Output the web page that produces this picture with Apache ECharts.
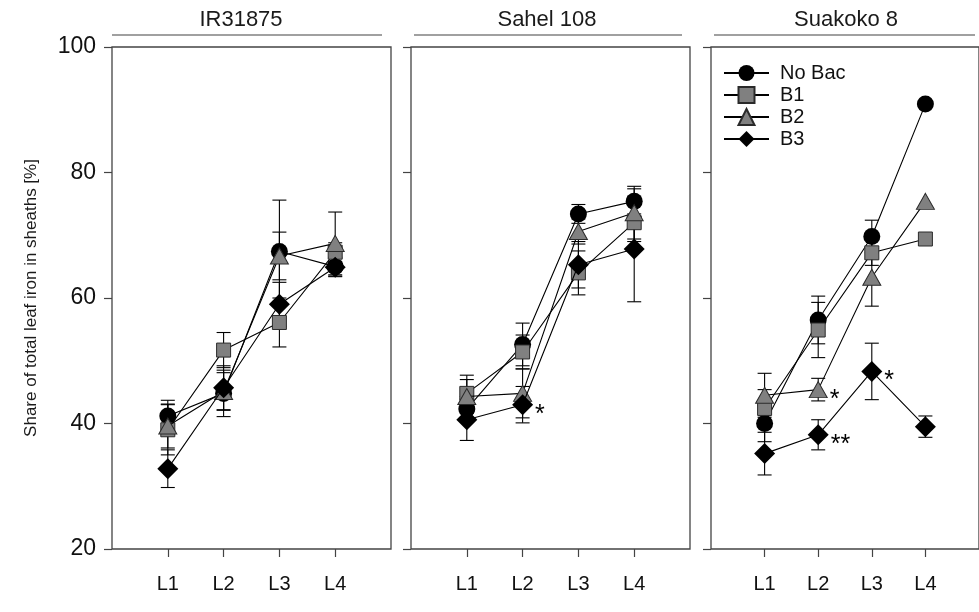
<!DOCTYPE html>
<html>
<head>
<meta charset="utf-8">
<script src="https://cdn.jsdelivr.net/npm/echarts@6/dist/echarts.min.js"></script>
<style>
  html, body { margin: 0; padding: 0; background: #fff; }
  #chart { width: 979px; height: 612px; }
</style>
</head>
<body>
<div id="chart"></div>
<script>
// Leaf levels (x categories), genotypes (panels) and treatments (series)
const levels = ['L1', 'L2', 'L3', 'L4'];
const genotypes = ['IR31875', 'Sahel 108', 'Suakoko 8'];
const treatments = ['No Bac', 'B1', 'B2', 'B3'];
const yTicks = [20, 40, 60, 80, 100];

// IR31875: mean share (%) and standard error per leaf level
const irNoBac = [41.2, 44.8, 67.4, 65.0];
const irB1    = [39.0, 51.7, 56.1, 67.3];
const irB2    = [39.6, 45.1, 66.7, 68.7];
const irB3    = [32.8, 45.7, 59.0, 64.9];
const irNoBacErr = [2.5, 3.7, 8.2, 1.5];
const irB1Err    = [4.0, 2.8, 3.9, 1.5];
const irB2Err    = [3.5, 3.0, 3.8, 5.0];
const irB3Err    = [3.0, 3.5, 3.5, 1.5];

// Sahel 108
const sahelNoBac = [42.3, 52.6, 73.4, 75.4];
const sahelB1    = [44.8, 51.4, 64.0, 72.0];
const sahelB2    = [44.3, 44.8, 70.6, 73.6];
const sahelB3    = [40.6, 43.0, 65.3, 67.8];
const sahelNoBacErr = [2.0, 3.4, 1.5, 2.0];
const sahelB1Err    = [2.9, 2.7, 3.5, 3.0];
const sahelB2Err    = [2.7, 3.9, 2.0, 4.2];
const sahelB3Err    = [3.3, 2.9, 3.7, 8.4];

// Suakoko 8
const suakNoBac = [40.0, 56.5, 69.8, 90.9];
const suakB1    = [42.4, 54.9, 67.2, 69.4];
const suakB2    = [44.5, 45.4, 63.3, 75.4];
const suakB3    = [35.2, 38.2, 48.3, 39.5];
const suakNoBacErr = [2.9, 3.8, 2.6, 0];
const suakB1Err    = [3.0, 4.4, 2.0, 0];
const suakB2Err    = [3.5, 1.8, 4.6, 0];
const suakB3Err    = [3.4, 2.4, 4.5, 1.7];

// Significance marks versus the non-inoculated control
const noSig    = ['', '', '', ''];
const sahelB3Sig = ['', '*', '', ''];
const suakB2Sig  = ['', '*', '', ''];
const suakB3Sig  = ['', '**', '*', ''];

const panelMeans = [
  [irNoBac, irB1, irB2, irB3],
  [sahelNoBac, sahelB1, sahelB2, sahelB3],
  [suakNoBac, suakB1, suakB2, suakB3]
];
const panelErrs = [
  [irNoBacErr, irB1Err, irB2Err, irB3Err],
  [sahelNoBacErr, sahelB1Err, sahelB2Err, sahelB3Err],
  [suakNoBacErr, suakB1Err, suakB2Err, suakB3Err]
];
const panelSig = [
  [noSig, noSig, noSig, noSig],
  [noSig, noSig, noSig, sahelB3Sig],
  [noSig, noSig, suakB2Sig, suakB3Sig]
];

const FONT = "'Liberation Sans', Arial, sans-serif";
const GRAY = '#808080';
const EDGE = '#2a2a2a';

const markerStyles = [
  { symbol: 'circle',   symbolSize: 17,       itemStyle: { color: '#000' } },
  { symbol: 'rect',     symbolSize: 14,       itemStyle: { color: GRAY, borderColor: EDGE, borderWidth: 1 } },
  { symbol: 'triangle', symbolSize: [18, 16], itemStyle: { color: GRAY, borderColor: EDGE, borderWidth: 1 } },
  { symbol: 'diamond',  symbolSize: [21, 21], itemStyle: { color: '#000' } }
];

const panelLeft = [112, 411, 711];
const panelWidth = 279;
const panelTop = 47;
const panelHeight = 502;

const grids = [], xAxes = [], yAxes = [], series = [];

panelLeft.forEach((left, gi) => {
  grids.push({
    left: left, top: panelTop, width: panelWidth, height: panelHeight,
    show: true, borderColor: '#444', borderWidth: 1.3, backgroundColor: 'transparent'
  });
  xAxes.push({
    gridIndex: gi, type: 'value', min: 0, max: levels.length + 1, interval: 1,
    axisLine: { show: false },
    splitLine: { show: false },
    axisTick: { show: true, length: 8, customValues: levels.map((l, i) => i + 1),
                lineStyle: { color: '#444', width: 1.2 } },
    axisLabel: { customValues: levels.map((l, i) => i + 1),
                 formatter: v => levels[v - 1] || '',
                 fontFamily: FONT, fontSize: 20, color: '#111', margin: 25 }
  });
  yAxes.push({
    gridIndex: gi, type: 'value', min: yTicks[0], max: yTicks[yTicks.length - 1], interval: 20,
    axisLine: { show: false },
    splitLine: { show: false },
    axisTick: { show: true, length: 8, lineStyle: { color: '#444', width: 1.2 } },
    axisLabel: { show: gi === 0, fontFamily: FONT, fontSize: 23, color: '#111', margin: 16 }
  });

  treatments.forEach((name, ti) => {
    const means = panelMeans[gi][ti];
    const errs = panelErrs[gi][ti];
    const sig = panelSig[gi][ti];

    // error bars with caps
    series.push({
      type: 'custom', name: name + ' error', xAxisIndex: gi, yAxisIndex: gi, z: 1, silent: true,
      data: means.map((m, i) => [i + 1, m - errs[i], m + errs[i]]).filter((d, i) => errs[i] > 0),
      renderItem: (params, api) => {
        const x = api.value(0);
        const lo = api.coord([x, api.value(1)]);
        const hi = api.coord([x, api.value(2)]);
        const w = 7;
        const st = { stroke: '#000', lineWidth: 1.1 };
        return {
          type: 'group',
          children: [
            { type: 'line', shape: { x1: lo[0], y1: lo[1], x2: hi[0], y2: hi[1] }, style: st },
            { type: 'line', shape: { x1: lo[0] - w, y1: lo[1], x2: lo[0] + w, y2: lo[1] }, style: st },
            { type: 'line', shape: { x1: hi[0] - w, y1: hi[1], x2: hi[0] + w, y2: hi[1] }, style: st }
          ]
        };
      }
    });

    // means joined by lines
    series.push(Object.assign({
      type: 'line', name: name, xAxisIndex: gi, yAxisIndex: gi, z: 2 + ti,
      showAllSymbol: true, animation: false,
      lineStyle: { color: '#000', width: 1.1 },
      data: means.map((m, i) => sig[i]
        ? { value: [i + 1, m],
            label: { show: true, position: 'right', distance: 2, formatter: sig[i],
                     fontFamily: FONT, fontSize: 25, color: '#000', offset: [0, 10] } }
        : { value: [i + 1, m] })
    }, markerStyles[ti]));
  });
});

const graphics = [];
const titleLines = [[112, 382], [414, 682], [714, 975]];
const titleCenters = [241, 547, 846];
genotypes.forEach((g, gi) => {
  graphics.push({
    type: 'text', x: titleCenters[gi], y: 20,
    style: { text: g, fontFamily: FONT, fontSize: 22, fill: '#1a1a1a', textAlign: 'center', textVerticalAlign: 'middle' }
  });
  graphics.push({
    type: 'line', shape: { x1: titleLines[gi][0], y1: 35, x2: titleLines[gi][1], y2: 35 },
    style: { stroke: GRAY, lineWidth: 1.5 }
  });
});
graphics.push({
  type: 'text', x: 31, y: 298, rotation: Math.PI / 2,
  style: { text: 'Share of total leaf iron in sheaths [%]', fontFamily: FONT, fontSize: 17,
           fill: '#1a1a1a', textAlign: 'center', textVerticalAlign: 'middle' }
});

const chart = echarts.init(document.getElementById('chart'), null, { renderer: 'canvas' });
chart.setOption({
  animation: false,
  backgroundColor: '#fff',
  grid: grids,
  xAxis: xAxes,
  yAxis: yAxes,
  legend: {
    data: treatments, orient: 'vertical', left: 718, top: 58,
    itemWidth: 45, itemHeight: 20, itemGap: 2,
    textStyle: { fontFamily: FONT, fontSize: 20, color: '#111', padding: [0, 0, 0, 6] },
    selectedMode: false
  },
  graphic: graphics,
  series: series
});
</script>
</body>
</html>
